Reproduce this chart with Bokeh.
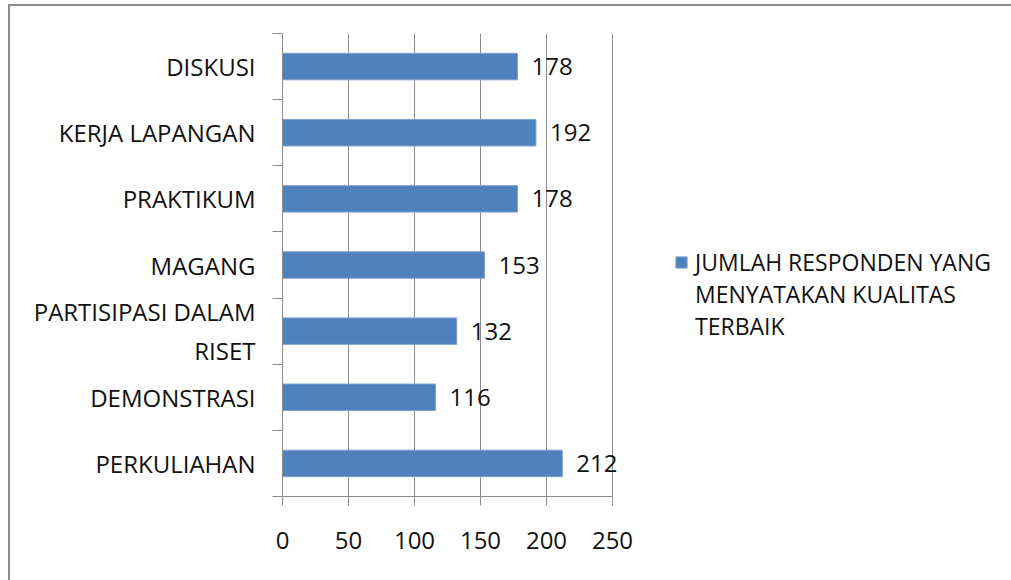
from bokeh.plotting import figure
from bokeh.models import ColumnDataSource, FixedTicker, Legend, LegendItem, Range1d
from bokeh.core.properties import value
from bokeh.embed import file_html
from bokeh.resources import INLINE

# ---- data ----
categories = ["PERKULIAHAN", "DEMONSTRASI", "PARTISIPASI DALAM\nRISET", "MAGANG",
              "PRAKTIKUM", "KERJA LAPANGAN", "DISKUSI"]
values = [212, 116, 132, 153, 178, 192, 178]
x_ticks = [0, 50, 100, 150, 200, 250]
series_name = "JUMLAH RESPONDEN YANG\nMENYATAKAN KUALITAS\nTERBAIK"

FONT = "Open Sans"
FS = "24px"
GRID = "#8C8C8C"
BAR = "#4F81BD"
TXT = "#111111"

pos = [i + 0.5 for i in range(len(categories))]
src = ColumnDataSource(dict(y=pos, v=values, lbl=[str(v) for v in values]))

p = figure(output_backend="svg", toolbar_location=None,
           x_range=Range1d(0, 275), y_range=Range1d(0, len(categories)),
           frame_width=363, frame_height=463)
p.min_border_left = 272
p.min_border_right = 366
p.min_border_top = 27
p.min_border_bottom = 84
p.outline_line_color = None
p.background_fill_color = "white"
p.border_fill_color = "white"

bars = p.hbar(y="y", left=0, right="v", height=0.4, source=src,
              fill_color=BAR, line_color="#7EA2CF", line_width=1)

p.text(x="v", y="y", text="lbl", source=src, x_offset=14,
       text_baseline="middle", text_align="left",
       text_font=value(FONT), text_font_size=value(FS), text_color=TXT)

# x axis
p.xaxis.ticker = FixedTicker(ticks=x_ticks, minor_ticks=[])
p.xaxis.bounds = (x_ticks[0], x_ticks[-1])
p.xaxis.axis_line_color = GRID
p.xaxis.major_tick_line_color = GRID
p.xaxis.major_tick_in = 0
p.xaxis.major_tick_out = 9
p.xaxis.minor_tick_line_color = None
p.xaxis.major_label_standoff = 26
p.xaxis.major_label_text_font = FONT
p.xaxis.major_label_text_font_size = FS
p.xaxis.major_label_text_color = TXT

p.xgrid.ticker = FixedTicker(ticks=x_ticks)
p.xgrid.grid_line_color = GRID
p.ygrid.grid_line_color = None

# y axis: labels at category centres, tick marks at category boundaries
p.yaxis.ticker = FixedTicker(ticks=pos, minor_ticks=list(range(len(categories) + 1)))
p.yaxis.major_label_overrides = {y: c for y, c in zip(pos, categories)}
p.yaxis.axis_line_color = GRID
p.yaxis.major_tick_line_color = None
p.yaxis.major_tick_in = 0
p.yaxis.major_tick_out = 10
p.yaxis.minor_tick_line_color = GRID
p.yaxis.minor_tick_in = 0
p.yaxis.minor_tick_out = 10
p.yaxis.major_label_standoff = 17
p.yaxis.major_label_text_font = FONT
p.yaxis.major_label_text_font_size = FS
p.yaxis.major_label_text_color = TXT

# legend: one swatch on the first line of a three-line series name
ghost = p.hbar(y=[], left=[], right=[], height=0.4, fill_alpha=0, line_alpha=0)
lines = series_name.split("\n")
items = [LegendItem(label=lines[0], renderers=[bars])] + \
        [LegendItem(label=t, renderers=[ghost]) for t in lines[1:]]
legend = Legend(items=items, location=(29, 154), orientation="vertical")
legend.padding = 0
legend.margin = 0
legend.spacing = 0
legend.label_height = 32
legend.border_line_color = None
legend.background_fill_alpha = 0
legend.glyph_width = 14
legend.glyph_height = 14
legend.label_standoff = 7
legend.label_text_font = FONT
legend.label_text_font_size = "23px"
legend.label_text_color = TXT
legend.label_text_baseline = "middle"
p.add_layout(legend, "right")

p.styles = {"border-left": "2px solid #8C8C8C", "border-top": "2px solid #8C8C8C",
            "margin-left": "8px", "margin-top": "4px"}

open("out.html", "w").write(file_html(p, INLINE))
